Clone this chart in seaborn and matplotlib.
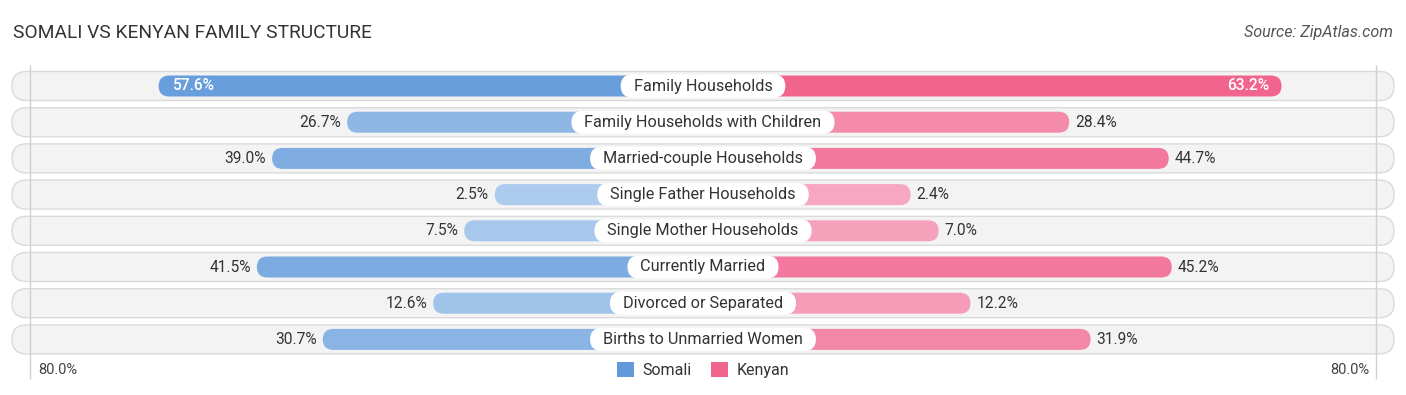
import numpy as np
import pandas as pd
import seaborn as sns
import matplotlib.pyplot as plt
from matplotlib.patches import FancyBboxPatch, Patch
from matplotlib.colors import to_rgb

categories = ["Family Households", "Family Households with Children", "Married-couple Households",
              "Single Father Households", "Single Mother Households", "Currently Married",
              "Divorced or Separated", "Births to Unmarried Women"]
somali = [57.6, 26.7, 39.0, 2.5, 7.5, 41.5, 12.6, 30.7]
kenyan = [63.2, 28.4, 44.7, 2.4, 7.0, 45.2, 12.2, 31.9]
groups = ["Somali", "Kenyan"]
axis_max_label = "80.0%"

# layout (data units are percent, 6.1 px per percent)
PX = 6.1
OFF = 193 / PX          # bars start hidden under the centre label
XLIM = 703 / PX
ROW_PX = 36.2
BAR_H = 21 / ROW_PX
BG_H = 29 / ROW_PX
LBL_H = 23 / ROW_PX
BG_X = 691 / PX
EDGE = 673 / PX
ASPECT = PX / ROW_PX

blue_hi, blue_lo = np.array(to_rgb("#6199da")), np.array(to_rgb("#b0cdee"))
pink_hi, pink_lo = np.array(to_rgb("#f0648e")), np.array(to_rgb("#f7aac3"))
vmax = max(somali + kenyan)

def shade(v, hi, lo):
    t = min(v / vmax, 1.0)
    return tuple(lo + (hi - lo) * t)

def pill(x0, y0, w, h, **kw):
    return FancyBboxPatch((x0, y0), w, h,
                          boxstyle=f"round,pad=0,rounding_size={h / 2 / ASPECT}",
                          mutation_aspect=ASPECT, **kw)

sns.set_theme(style="white")
plt.rcParams["font.family"] = ["Roboto", "DejaVu Sans"]

df = pd.DataFrame({
    "category": categories * 2,
    "group": ["Somali"] * len(categories) + ["Kenyan"] * len(categories),
    "length": [-(OFF + v) for v in somali] + [OFF + v for v in kenyan],
})

fig = plt.figure(figsize=(14.06, 3.95), dpi=100)
ax = fig.add_axes([0, 0, 1, 1])

# background pills
for i in range(len(categories)):
    ax.add_patch(pill(-BG_X, i - BG_H / 2, 2 * BG_X, BG_H,
                      fc="#f3f3f3", ec="#dadada", lw=1.0, zorder=0))

sns.barplot(data=df, y="category", x="length", hue="group", order=categories,
            hue_order=groups, dodge=False, width=BAR_H, errorbar=None,
            palette=["#6199da", "#f0648e"], legend=False, ax=ax)

# swap rectangles for rounded bars shaded by value
for p in list(ax.patches):
    if not isinstance(p, plt.Rectangle) or p.get_width() == 0:
        continue
    x, y, w, h = p.get_x(), p.get_y(), p.get_width(), p.get_height()
    x0 = min(x, x + w)
    val = abs(w) - OFF
    col = shade(val, blue_hi, blue_lo) if w < 0 else shade(val, pink_hi, pink_lo)
    p.remove()
    ax.add_patch(pill(x0, y, abs(w), h, fc=col, ec="none", zorder=2))

ax.set_xlim(-XLIM, XLIM)
ax.set_ylim((395 - 86) / ROW_PX, -86 / ROW_PX)
ax.axis("off")

label_texts = []
for i, cat in enumerate(categories):
    s, k = somali[i], kenyan[i]
    if i == 0:
        ax.text(-(OFF + s) + 14 / PX, i, f"{s:.1f}%", ha="left", va="center",
                fontsize=11.2, color="white", fontweight="medium", zorder=4)
        ax.text(OFF + k - 12 / PX, i, f"{k:.1f}%", ha="right", va="center",
                fontsize=11.2, color="white", fontweight="medium", zorder=4)
    else:
        ax.text(-(OFF + s) - 6 / PX, i, f"{s:.1f}%", ha="right", va="center",
                fontsize=11.2, color="#333333", zorder=4)
        ax.text(OFF + k + 6 / PX, i, f"{k:.1f}%", ha="left", va="center",
                fontsize=11.2, color="#333333", zorder=4)
    label_texts.append(ax.text(0, i, cat, ha="center", va="center", fontsize=11.7,
                               color="#333333", zorder=5))

# white pills behind the centre labels, sized from the rendered text
fig.canvas.draw()
renderer = fig.canvas.get_renderer()
for i, t in enumerate(label_texts):
    bb = t.get_window_extent(renderer)
    half = (bb.width / 2 + 13) / PX
    ax.add_patch(pill(-half, i - LBL_H / 2, 2 * half, LBL_H, fc="white", ec="none", zorder=3))

ax.vlines([-EDGE, EDGE], -0.58, 8.1, color="#d0d0d0", lw=1, zorder=1)

fig.text(13 / 1406, 1 - 33 / 395, "SOMALI VS KENYAN FAMILY STRUCTURE", ha="left", va="center",
         fontsize=13.8, color="#333333")
fig.text(1393 / 1406, 1 - 33 / 395, "Source: ZipAtlas.com", ha="right", va="center",
         fontsize=11.6, color="#555555", style="italic")
fig.text(38 / 1406, 1 - 370 / 395, axis_max_label, ha="left", va="center", fontsize=10.5, color="#444444")
fig.text(1369 / 1406, 1 - 370 / 395, axis_max_label, ha="right", va="center", fontsize=10.5, color="#444444")

handles = [Patch(fc="#6199da", ec="none", label="Somali"), Patch(fc="#f0648e", ec="none", label="Kenyan")]
fig.legend(handles=handles, loc="center", bbox_to_anchor=(0.5, 1 - 370 / 395), ncol=2, frameon=False,
           fontsize=11.5, handlelength=1.1, handleheight=1.1, handletextpad=0.5, columnspacing=1.2,
           labelcolor="#333333")

fig.savefig("out.png", dpi=100)
